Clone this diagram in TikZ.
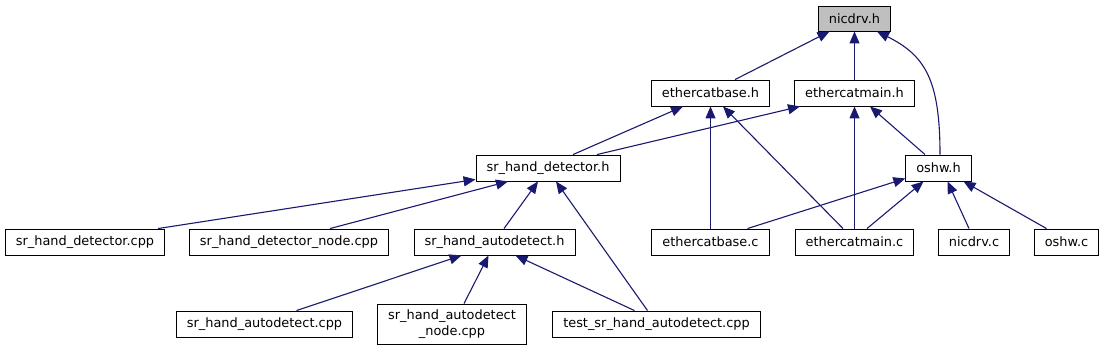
\documentclass[tikz,border=0pt]{standalone}
\usepackage{fontspec}
\setmainfont{DejaVu Sans}
\usetikzlibrary{arrows.meta}
\definecolor{edgeblue}{HTML}{191970}
\definecolor{focusgray}{HTML}{BFBFBF}
\begin{document}
\begin{tikzpicture}[x=1pt,y=-1pt,
    box/.style={draw=black, line width=0.9pt, fill=white, minimum height=26pt, inner xsep=10.5pt, inner ysep=2pt, align=center, font=\fontsize{12.9}{15.5}\selectfont},
    edge/.style={draw=edgeblue, line width=1.1pt, -{Triangle[length=12pt,width=10pt]}}]
    \useasboundingbox (0,0) rectangle (1107,351);
    % the header and the files that include it
    \node [box, fill=focusgray, minimum height=25pt] (nicdrv) at (854.5,18.5) {nicdrv.h};
    \node [box] (ebaseh) at (710.5,93) {ethercatbase.h};
    \node [box] (emainh) at (854.5,93) {ethercatmain.h};
    \node [box] (srdeth) at (548,168) {sr\_hand\_detector.h};
    \node [box] (oshwh) at (938.5,168) {oshw.h};
    \node [box] (srdetcpp) at (85,242) {sr\_hand\_detector.cpp};
    \node [box] (srdetnode) at (289,242) {sr\_hand\_detector\_node.cpp};
    \node [box] (srautoh) at (494.5,242) {sr\_hand\_autodetect.h};
    \node [box] (ebasec) at (710.5,242) {ethercatbase.c};
    \node [box] (emainc) at (854.5,242) {ethercatmain.c};
    \node [box] (nicdrvc) at (974,242) {nicdrv.c};
    \node [box] (oshwc) at (1066.5,242) {oshw.c};
    \node [box] (srautocpp) at (264.5,324) {sr\_hand\_autodetect.cpp};
    \node [box, minimum height=40pt] (srautonode) at (452,324) {sr\_hand\_autodetect\\\_node.cpp};
    \node [box] (testcpp) at (656.5,324) {test\_sr\_hand\_autodetect.cpp};
    % include edges
    \draw [edge] ([xshift=24.5pt]ebaseh.north) -- ([xshift=-25pt]nicdrv.south);
    \draw [edge] (emainh.north) -- (nicdrv.south);
    \draw [edge] ([xshift=1.5pt]oshwh.north) .. controls +(0,-75) and +(48,24) .. ([xshift=22.5pt]nicdrv.south);
    \draw [edge] ([xshift=25pt]srdeth.north) -- ([xshift=-27.5pt]ebaseh.south);
    \draw [edge] ([xshift=49pt]srdeth.north) -- ([xshift=-54.5pt]emainh.south);
    \draw [edge] (ebasec.north) -- (ebaseh.south);
    \draw [edge] ([xshift=-11.5pt]emainc.north) -- ([xshift=12.5pt]ebaseh.south);
    \draw [edge] (emainc.north) -- (emainh.south);
    \draw [edge] ([xshift=-13.5pt]oshwh.north) -- ([xshift=15.5pt]emainh.south);
    \draw [edge] ([xshift=73pt]srdetcpp.north) -- ([yshift=2pt]srdeth.south west);
    \draw [edge] ([xshift=41pt]srdetnode.north) -- ([xshift=-40pt]srdeth.south);
    \draw [edge] ([xshift=9.5pt]srautoh.north) -- ([xshift=-10pt]srdeth.south);
    \draw [edge] ([xshift=-9pt]testcpp.north) -- ([xshift=8pt]srdeth.south);
    \draw [edge] ([xshift=37pt]ebasec.north) -- ([yshift=3pt]oshwh.south west);
    \draw [edge] ([xshift=12.5pt]emainc.north) -- ([xshift=-15pt]oshwh.south);
    \draw [edge] ([xshift=-5pt]nicdrvc.north) -- ([xshift=9pt]oshwh.south);
    \draw [edge] ([xshift=-20pt]oshwc.north) -- ([xshift=25pt]oshwh.south);
    \draw [edge] ([xshift=32pt]srautocpp.north) -- ([xshift=-33pt]srautoh.south);
    \draw [edge] ([xshift=12pt]srautonode.north) -- ([xshift=-6pt]srautoh.south);
    \draw [edge] ([xshift=-22pt]testcpp.north) -- ([xshift=21pt]srautoh.south);
\end{tikzpicture}
\end{document}
